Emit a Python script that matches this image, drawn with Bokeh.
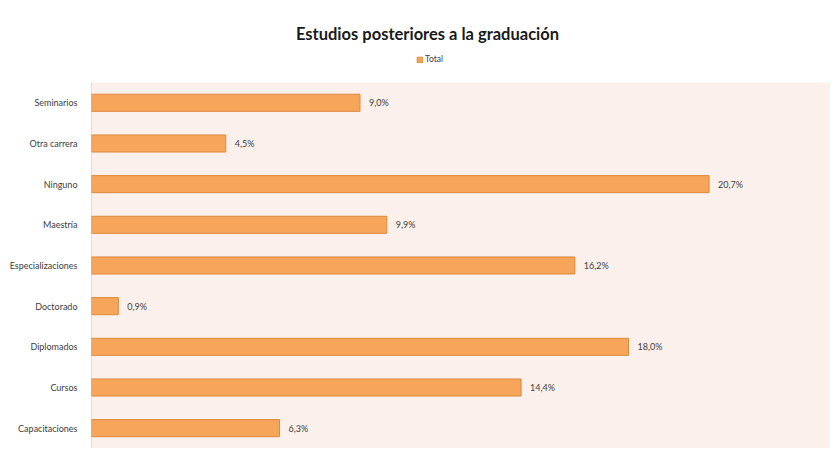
from bokeh.plotting import figure
from bokeh.models import (Range1d, ColumnDataSource, Legend, LegendItem, Label,
                          BoxAnnotation, FixedTicker)
from bokeh.core.properties import value
from bokeh.embed import file_html
from bokeh.resources import INLINE

categories = ["Seminarios", "Otra carrera", "Ninguno", "Maestría", "Especializaciones",
              "Doctorado", "Diplomados", "Cursos", "Capacitaciones"]
values = [9.0, 4.5, 20.7, 9.9, 16.2, 0.9, 18.0, 14.4, 6.3]
series_name = "Total"
title_text = "Estudios posteriores a la graduación"

n = len(categories)
# top category drawn at the top: position n-1 ... 0
ypos = [n - 1 - i for i in range(n)]
labels = [f"{v:.1f}%".replace(".", ",") for v in values]
src = ColumnDataSource(dict(y=ypos, val=values, lab=labels))

FONT = "Lato"
H = 448
PX_PER_CAT = 40.67
y_start = -0.5
y_end = y_start + H / PX_PER_CAT

p = figure(width=830, height=H, output_backend="svg", toolbar_location=None,
           y_range=Range1d(y_start, y_end),
           x_range=Range1d(0, 24.77),
           min_border_left=91, min_border_right=0, min_border_top=0, min_border_bottom=0)

p.background_fill_color = "white"
p.border_fill_color = "white"
p.outline_line_color = None
p.xaxis.visible = False
p.xgrid.grid_line_color = None
p.ygrid.grid_line_color = None

# plot-area background
p.add_layout(BoxAnnotation(bottom=-0.5, top=n - 0.5, fill_color="#FBF0EB",
                           fill_alpha=1, line_color=None, level="underlay"))

yax = p.yaxis[0]
yax.ticker = FixedTicker(ticks=ypos)
yax.major_label_overrides = {yv: c for yv, c in zip(ypos, categories)}
yax.axis_line_color = None
yax.major_tick_line_color = None
yax.minor_tick_line_color = None
yax.major_label_text_font = FONT
yax.major_label_text_font_size = "9px"
yax.major_label_text_color = "#404040"
yax.major_label_standoff = 8

# vertical category axis line over the plot area only
p.segment(x0=[0], y0=[-0.5], x1=[0], y1=[n - 0.5], line_color="#BFBFBF", line_width=1)

bars = p.hbar(y="y", right="val", left=0, height=0.42, source=src,
              fill_color="#F7A55A", line_color="#DC8A3E", line_width=1)

p.text(x="val", y="y", text="lab", source=src, x_offset=9,
       text_baseline="middle", text_align="left",
       text_font=value(FONT), text_font_size="9px", text_color="#404040")

title = Label(x=336, y=H - 33, x_units="screen", y_units="screen", text=title_text,
              text_font=FONT, text_font_size="16.5px", text_font_style="bold",
              text_color="#1a1a1a", text_align="center", text_baseline="middle")
p.add_layout(title)

legend = Legend(items=[LegendItem(label=series_name, renderers=[bars])],
                location=(325, H - 64), orientation="horizontal",
                glyph_width=7, glyph_height=7, label_text_font=FONT,
                label_text_font_size="8.5px", label_text_color="#404040",
                label_standoff=2, padding=0, margin=0, spacing=0,
                border_line_color=None, background_fill_alpha=0,
                label_height=9)
p.add_layout(legend, "center")

open("out.html", "w").write(file_html(p, INLINE))
